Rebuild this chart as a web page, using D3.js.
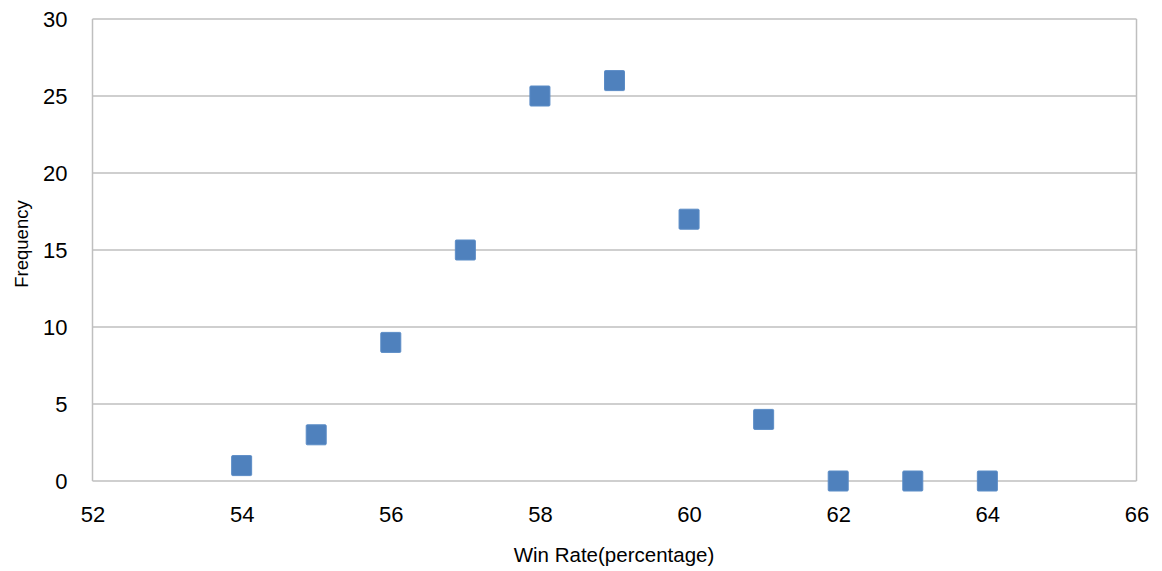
<!DOCTYPE html>
<html><head><meta charset="utf-8">
<script src="https://cdn.jsdelivr.net/npm/d3@7"></script>
<style>body{margin:0;background:#fff}svg{display:block}</style>
</head><body>
<script>
const winRate = [54,55,56,57,58,59,60,61,62,63,64];
const frequency = [1,3,9,15,25,26,17,4,0,0,0];
const xTicks = [52,54,56,58,60,62,64,66];
const yTicks = [0,5,10,15,20,25,30];

const W=1162,H=571;
const m={l:92.5,r:1162-1136.5,t:19,b:571-481};
const svg=d3.select("body").append("svg").attr("width",W).attr("height",H);
const x=d3.scaleLinear().domain([52,66]).range([m.l,W-m.r]);
const y=d3.scaleLinear().domain([0,30]).range([H-m.b,m.t]);
const font="'Liberation Sans', Arial, sans-serif";
const grid="#BFBFBF";

svg.append("g").selectAll("line").data(yTicks).join("line")
 .attr("x1",x(52)).attr("x2",x(66)).attr("y1",d=>y(d)).attr("y2",d=>y(d))
 .attr("stroke",grid).attr("stroke-width",1.5);
svg.append("g").selectAll("line").data([52,66]).join("line")
 .attr("x1",d=>x(d)).attr("x2",d=>x(d)).attr("y1",y(0)).attr("y2",y(30))
 .attr("stroke",grid).attr("stroke-width",1.5);

const xa=svg.append("g").attr("transform",`translate(0,${y(0)})`)
 .call(d3.axisBottom(x).tickValues(xTicks).tickSize(0).tickPadding(25).tickFormat(d3.format("d")));
xa.select(".domain").remove();
xa.selectAll("text").attr("font-family",font).attr("font-size",22).attr("fill","#000");

const ya=svg.append("g").attr("transform",`translate(${x(52)},0)`)
 .call(d3.axisLeft(y).tickValues(yTicks).tickSize(0).tickPadding(25).tickFormat(d3.format("d")));
ya.select(".domain").remove();
ya.selectAll("text").attr("font-family",font).attr("font-size",22).attr("fill","#000");

const s=20;
svg.append("g").selectAll("rect").data(winRate.map((w,i)=>({w,f:frequency[i]}))).join("rect")
 .attr("x",d=>x(d.w)-s/2).attr("y",d=>y(d.f)-s/2).attr("width",s).attr("height",s)
 .attr("fill","#4F81BD").attr("stroke","#5B8CC6").attr("stroke-width",1).attr("rx",1);

svg.append("text").attr("x",614).attr("y",562).attr("text-anchor","middle")
 .attr("font-family",font).attr("font-size",20.5).text("Win Rate(percentage)");
svg.append("text").attr("transform",`translate(28,244) rotate(-90)`).attr("text-anchor","middle")
 .attr("font-family",font).attr("font-size",18.5).text("Frequency");
</script>
</body></html>
